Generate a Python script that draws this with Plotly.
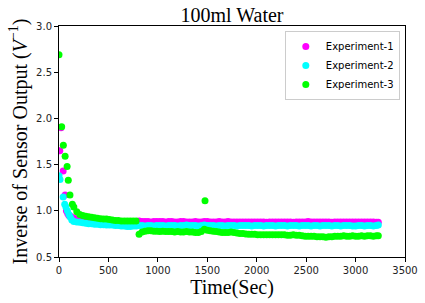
import plotly.graph_objects as go

# ---------------- data ----------------
# early (sparse) samples of each experiment
t1_early = [8, 20, 42, 62, 75, 88, 100, 115, 130]
v1_early = [1.65, 1.90, 1.43, 1.17, 1.00, 0.97, 0.95, 0.94, 0.93]

t2_early = [0, 10, 42, 58, 70, 85, 100, 115, 130]
v2_early = [1.38, 1.34, 1.15, 1.07, 1.04, 1.00, 0.96, 0.93, 0.90]

t3_early = [0, 27, 44, 62, 82, 94, 111, 135, 1477]
v3_early = [2.69, 1.91, 1.71, 1.59, 1.48, 1.33, 1.17, 1.07, 1.11]

# dense samples (shared time stamps)
t_dense = [150, 180, 210, 240, 270, 300, 330, 360, 390, 420,
           450, 480, 510, 540, 570, 600, 630, 660, 690, 720,
           750, 780, 810, 840, 870, 900, 930, 960, 990, 1020,
           1050, 1080, 1110, 1140, 1170, 1200, 1230, 1260, 1290, 1320,
           1350, 1380, 1410, 1440, 1470, 1500, 1530, 1560, 1590, 1620,
           1650, 1680, 1710, 1740, 1770, 1800, 1830, 1860, 1890, 1920,
           1950, 1980, 2010, 2040, 2070, 2100, 2130, 2160, 2190, 2220,
           2250, 2280, 2310, 2340, 2370, 2400, 2430, 2460, 2490, 2520,
           2550, 2580, 2610, 2640, 2670, 2700, 2730, 2760, 2790, 2820,
           2850, 2880, 2910, 2940, 2970, 3000, 3030, 3060, 3090, 3120,
           3150, 3180, 3210, 3230]

v1_dense = [0.92, 0.91, 0.905, 0.90, 0.90, 0.895, 0.895, 0.89, 0.89, 0.89,
            0.89, 0.89, 0.885, 0.885, 0.885, 0.885, 0.885, 0.88, 0.885, 0.885,
            0.885, 0.885, 0.89, 0.885, 0.885, 0.885, 0.88, 0.885, 0.885, 0.885,
            0.885, 0.88, 0.885, 0.885, 0.88, 0.88, 0.885, 0.885, 0.88, 0.88,
            0.88, 0.885, 0.88, 0.88, 0.885, 0.885, 0.88, 0.88, 0.88, 0.885,
            0.88, 0.88, 0.885, 0.88, 0.88, 0.88, 0.88, 0.88, 0.88, 0.88,
            0.88, 0.88, 0.88, 0.88, 0.88, 0.875, 0.88, 0.88, 0.88, 0.88,
            0.88, 0.88, 0.88, 0.88, 0.875, 0.88, 0.88, 0.88, 0.88, 0.885,
            0.88, 0.88, 0.88, 0.88, 0.88, 0.88, 0.88, 0.875, 0.88, 0.88,
            0.88, 0.88, 0.88, 0.88, 0.88, 0.88, 0.88, 0.88, 0.88, 0.88,
            0.88, 0.88, 0.875, 0.875]

v2_dense = [0.885, 0.88, 0.875, 0.87, 0.865, 0.86, 0.86, 0.855, 0.855, 0.85,
            0.85, 0.845, 0.845, 0.845, 0.84, 0.84, 0.835, 0.835, 0.83, 0.83,
            0.835, 0.835, 0.84, 0.84, 0.835, 0.84, 0.84, 0.835, 0.84, 0.84,
            0.84, 0.835, 0.84, 0.84, 0.84, 0.835, 0.84, 0.84, 0.845, 0.84,
            0.84, 0.84, 0.835, 0.84, 0.845, 0.84, 0.84, 0.84, 0.835, 0.84,
            0.84, 0.835, 0.84, 0.84, 0.84, 0.835, 0.84, 0.84, 0.84, 0.84,
            0.835, 0.84, 0.84, 0.84, 0.835, 0.84, 0.84, 0.84, 0.835, 0.84,
            0.84, 0.84, 0.835, 0.84, 0.84, 0.84, 0.835, 0.84, 0.84, 0.84,
            0.835, 0.84, 0.84, 0.835, 0.84, 0.84, 0.84, 0.835, 0.84, 0.84,
            0.835, 0.84, 0.84, 0.84, 0.835, 0.835, 0.84, 0.84, 0.835, 0.84,
            0.84, 0.835, 0.84, 0.845]

v3_dense = [1.04, 0.99, 0.96, 0.95, 0.94, 0.935, 0.93, 0.925, 0.92, 0.915,
            0.91, 0.91, 0.905, 0.90, 0.895, 0.895, 0.89, 0.89, 0.89, 0.89,
            0.89, 0.89, 0.745, 0.77, 0.78, 0.785, 0.785, 0.78, 0.78, 0.775,
            0.78, 0.775, 0.775, 0.775, 0.77, 0.775, 0.77, 0.77, 0.775, 0.77,
            0.77, 0.765, 0.765, 0.775, 0.80, 0.79, 0.785, 0.78, 0.775, 0.77,
            0.765, 0.765, 0.765, 0.77, 0.765, 0.76, 0.755, 0.755, 0.75, 0.745,
            0.745, 0.745, 0.74, 0.74, 0.74, 0.74, 0.74, 0.74, 0.74, 0.74,
            0.74, 0.74, 0.735, 0.735, 0.74, 0.735, 0.735, 0.73, 0.725, 0.725,
            0.725, 0.725, 0.72, 0.72, 0.72, 0.715, 0.72, 0.72, 0.725, 0.725,
            0.725, 0.73, 0.725, 0.725, 0.73, 0.725, 0.725, 0.73, 0.725, 0.73,
            0.73, 0.725, 0.73, 0.73]

series_names = ["Experiment-1", "Experiment-2", "Experiment-3"]
series_colors = ["#ff00ff", "#00ffff", "#00ff00"]

x_ticks = [0, 500, 1000, 1500, 2000, 2500, 3000, 3500]
y_ticks = [0.5, 1.0, 1.5, 2.0, 2.5, 3.0]

# ---------------- figure ----------------
series = [
    (t1_early + t_dense, v1_early + v1_dense),
    (t2_early + t_dense, v2_early + v2_dense),
    (t3_early + t_dense, v3_early + v3_dense),
]

fig = go.Figure()
for (tx, vy), name, col in zip(series, series_names, series_colors):
    fig.add_trace(go.Scatter(
        x=tx, y=vy, mode="markers", name=name,
        marker=dict(color=col, size=7, line=dict(width=0)),
    ))

serif = "Liberation Serif, Times New Roman, serif"
sans = "DejaVu Sans, sans-serif"

fig.update_layout(
    width=425, height=303,
    margin=dict(l=59, r=20, t=26, b=46, autoexpand=False),
    paper_bgcolor="white", plot_bgcolor="white",
    title=dict(text="100ml Water", x=0.5, xref="paper", xanchor="center",
               y=1 - 15 / 303, yref="container", yanchor="middle",
               font=dict(family=serif, size=20, color="black")),
    font=dict(family=sans, size=10, color="#222"),
    showlegend=True,
    legend=dict(x=0.985, y=0.978, xanchor="right", yanchor="top",
                bgcolor="white", bordercolor="#cccccc", borderwidth=1,
                font=dict(family=sans, size=10, color="black"),
                itemsizing="trace", tracegroupgap=0,
                itemwidth=30),
)
fig.update_xaxes(
    range=[0, 3500], tickvals=x_ticks, ticktext=[str(v) for v in x_ticks],
    showgrid=False, zeroline=False, showline=True, linecolor="black",
    linewidth=1, mirror=True, ticks="outside", ticklen=4, tickcolor="black",
    tickfont=dict(family=sans, size=10, color="#222"), automargin=False,
    title=dict(text="Time(Sec)", font=dict(family=serif, size=20, color="black"),
               standoff=4),
)
fig.update_yaxes(
    range=[0.5, 3.0], tickvals=y_ticks, ticktext=["%.1f" % v for v in y_ticks],
    showgrid=False, zeroline=False, showline=True, linecolor="black",
    linewidth=1, mirror=True, ticks="outside", ticklen=4, tickcolor="black",
    tickfont=dict(family=sans, size=10, color="#222"), automargin=False,
    title=dict(text="Inverse of Sensor Output (<i>V</i><sup>−1</sup>)",
               font=dict(family=serif, size=20, color="black"), standoff=3),
)

fig.write_html(
    "out.html",
    config={"displayModeBar": False},
    post_script="document.body.style.margin='0';document.body.style.padding='0';",
)
